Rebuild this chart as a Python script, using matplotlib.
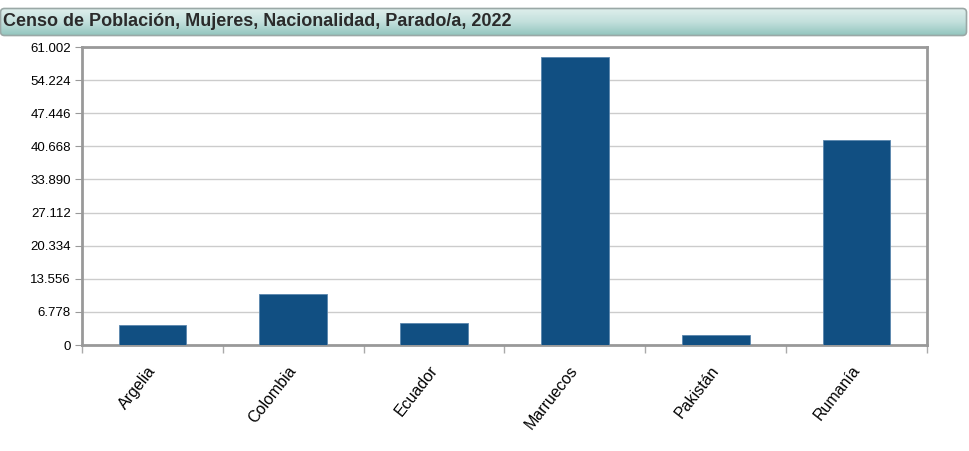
import matplotlib
matplotlib.use("Agg")
import matplotlib.pyplot as plt
import matplotlib.ticker as ticker
from matplotlib.patches import FancyBboxPatch
import numpy as np

plt.rcParams.update({
    "font.family": ["Liberation Sans", "DejaVu Sans"],
    "font.size": 9,
})

# data
paises = ["Argelia", "Colombia", "Ecuador", "Marruecos", "Pakistán", "Rumanía"]
paradas = [4.1, 10.5, 4.5, 58.9, 2.05, 41.9]
yticks = [0, 6.778, 13.556, 20.334, 27.112, 33.890, 40.668, 47.446, 54.224, 61.002]
ytick_labels = ["0", "6.778", "13.556", "20.334", "27.112", "33.890",
                "40.668", "47.446", "54.224", "61.002"]

fig = plt.figure(figsize=(9.69, 4.51), dpi=100)

# title bar: vertical teal gradient in a rounded box
bar_ax = fig.add_axes([0.0, 1 - 37 / 451, 968 / 969, 30 / 451])
bar_ax.set_xlim(0, 968)
bar_ax.set_ylim(0, 30)
bar_ax.axis("off")
grad = np.linspace(0, 1, 256).reshape(-1, 1)
cmap = matplotlib.colors.LinearSegmentedColormap.from_list(
    "t", ["#e2f0ee", "#c2e0dc", "#8cc1ba"])
img = bar_ax.imshow(grad, aspect="auto", cmap=cmap, extent=[0, 968, 0, 30], origin="upper")
box = FancyBboxPatch((0.5, 1.5), 966, 27, boxstyle="round,pad=0,rounding_size=4",
                     facecolor="none", edgecolor="#9aa8a6", linewidth=1.2)
bar_ax.add_patch(box)
img.set_clip_path(box)
bar_ax.text(3, 15, "Censo de Población, Mujeres, Nacionalidad, Parado/a, 2022",
            ha="left", va="center", fontsize=13, fontweight="bold", color="#2b2b2b")

# main plot
ax = fig.add_axes([82 / 969, 1 - 345 / 451, (927 - 82) / 969, (345 - 47) / 451])
x = np.arange(len(paises))
ax.bar(x, paradas, width=0.48, color="#114f82", edgecolor="#5a86ad", linewidth=0.6, zorder=3)

ax.set_xlim(-0.5, len(paises) - 0.5)
ax.set_ylim(0, 61.002)
ax.set_yticks(yticks)
ax.set_yticklabels(ytick_labels)
ax.yaxis.grid(True, color="#cccccc", linewidth=1, zorder=0)

ax.set_xticks(x - 0.04)
ax.set_xticklabels(paises, rotation=52, ha="right", rotation_mode="anchor", fontsize=11.5)
ax.xaxis.set_minor_locator(ticker.FixedLocator(np.arange(-0.5, len(paises), 1)))
ax.tick_params(axis="x", which="major", length=0, pad=13)
ax.tick_params(axis="x", which="minor", length=6, color="#aaaaaa", width=1)
ax.tick_params(axis="y", length=5, color="#999999", pad=3, labelsize=9.5)

for s in ax.spines.values():
    s.set_color("#999999")
    s.set_linewidth(2)

plt.savefig("out.png", dpi=100)
